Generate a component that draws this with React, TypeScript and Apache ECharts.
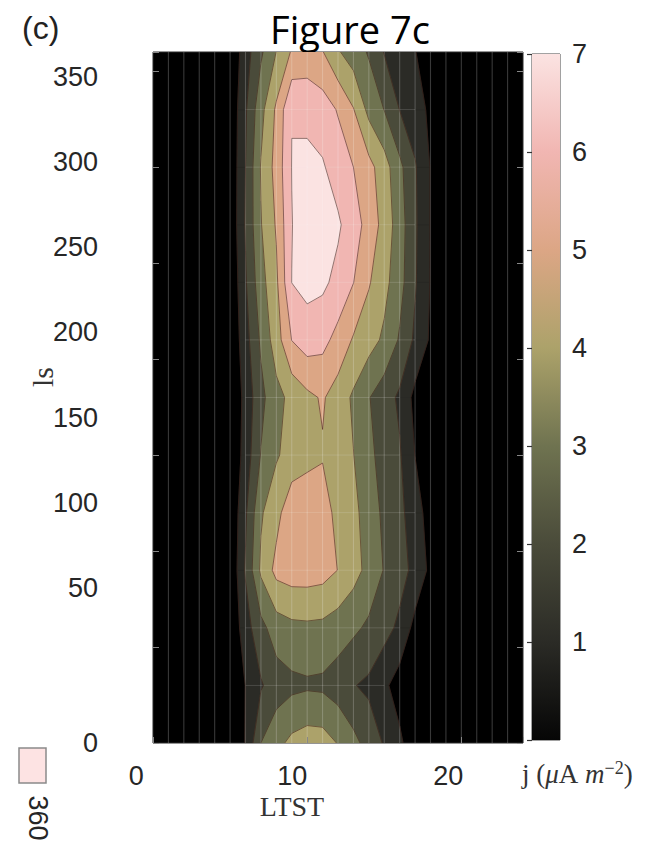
import React, { useEffect, useRef } from 'react';
import * as echarts from 'echarts';

// LTST grid (hours) and solar longitude grid (deg)
const hours = [0, 1, 2, 3, 4, 5, 6, 7, 8, 9, 10, 11, 12, 13, 14, 15, 16, 17, 18, 19, 20, 21, 22, 23, 24];
const lsValues = [0, 30, 60, 90, 120, 150, 180, 210, 240, 270, 300, 330, 360];

// current density j (µA m^-2) per Ls row, one value per hour
const ls0 = [0, 0, 0, 0, 0, 0, 1.05, 3.0, 3.7, 4.25, 4.5, 4.45, 3.95, 3.3, 2.6, 1.9, 1.2, 0.3, 0, 0, 0, 0, 0, 0, 0];
const ls30 = [0, 0, 0, 0, 0, 0, 1.02, 1.9, 2.5, 2.75, 2.85, 2.8, 2.5, 2.05, 1.8, 1.2, 0.53, 0, 0, 0, 0, 0, 0, 0, 0];
const ls60 = [0, 0, 0, 0, 0, 0.1, 1.57, 2.7, 3.5, 3.75, 3.8, 3.75, 3.5, 3.2, 2.82, 2.36, 1.78, 0.67, 0, 0, 0, 0, 0, 0, 0];
const ls90 = [0, 0, 0, 0, 0, 0.1, 2.1, 4.18, 5.3, 5.5, 5.5, 5.4, 4.98, 4.38, 3.69, 2.94, 2.39, 1.71, 0.76, 0, 0, 0, 0, 0, 0];
const ls120 = [0, 0, 0, 0, 0, 0.1, 1.85, 3.88, 4.68, 5.68, 5.58, 5.5, 4.67, 4.26, 3.55, 2.78, 2.24, 1.48, 0.52, 0, 0, 0, 0, 0, 0];
const ls150 = [0, 0, 0, 0, 0, 0, 1.43, 3.05, 3.89, 4.4, 4.75, 4.92, 4.5, 4.02, 3.23, 2.63, 2.1, 0.98, 0, 0, 0, 0, 0, 0, 0];
const ls180 = [0, 0, 0, 0, 0, 0, 1.33, 2.73, 3.68, 4.28, 4.77, 5.1, 4.55, 3.84, 3.05, 2.46, 1.82, 0.7, 0, 0, 0, 0, 0, 0, 0];
const ls210 = [0, 0, 0, 0, 0, 0.1, 1.6, 3.17, 4.53, 6.02, 6.5, 6.3, 5.67, 4.9, 4.4, 3.82, 2.89, 1.81, 0.86, 0, 0, 0, 0, 0, 0];
const ls240 = [0, 0, 0, 0, 0, 0.1, 1.9, 3.63, 4.81, 7.01, 7.3, 7.2, 6.71, 6.02, 5.09, 4.31, 3.37, 2.1, 0.95, 0, 0, 0, 0, 0, 0];
const ls270 = [0, 0, 0, 0, 0, 0.2, 2.08, 3.95, 5.1, 6.97, 7.6, 7.5, 7.15, 6.43, 5.64, 4.63, 3.47, 2.15, 0.95, 0, 0, 0, 0, 0, 0];
const ls300 = [0, 0, 0, 0, 0, 0.2, 2.0, 4.07, 5.35, 7.02, 7.4, 7.1, 6.54, 6.0, 5.33, 4.44, 3.25, 2.1, 0.95, 0, 0, 0, 0, 0, 0];
const ls330 = [0, 0, 0, 0, 0, 0.2, 1.87, 3.68, 5.17, 6.98, 6.6, 6.5, 5.92, 5.05, 3.71, 2.98, 1.98, 1.44, 0.8, 0, 0, 0, 0, 0, 0];
const ls360 = [0, 0, 0, 0, 0, 0.1, 1.55, 2.84, 4.02, 5.1, 5.5, 5.05, 4.1, 3.5, 2.9, 1.95, 1.5, 1.05, 0.2, 0, 0, 0, 0, 0, 0];
const jRows = [ls0, ls30, ls60, ls90, ls120, ls150, ls180, ls210, ls240, ls270, ls300, ls330, ls360];

// contour levels and colormap
const levels = [1, 2, 3, 4, 5, 6, 7];
const cmapLevels = [0, 1, 2, 3, 4, 5, 6, 7];
const cmapColors = ['#060606', '#2b2b26', '#4a4b3a', '#6f7350', '#aca26a', '#dca685', '#f1b6b2', '#fbe3e2'];

// tick labels
const xLabelValues = [0, 10, 20];
const yLabelValues = [50, 100, 150, 200, 250, 300, 350];
const colorbarTicks = [1, 2, 3, 4, 5, 6, 7];
const gridHours = [1, 2, 3, 4, 5, 6, 7, 8, 9, 10, 11, 12, 13, 14, 15, 16, 17, 18, 19, 20, 21, 22, 23];

type P = [number, number];

function cellInfo(i: number, j: number) {
  const c: P[] = [
    [hours[i], lsValues[j]],
    [hours[i + 1], lsValues[j]],
    [hours[i + 1], lsValues[j + 1]],
    [hours[i], lsValues[j + 1]],
  ];
  const v = [jRows[j][i], jRows[j][i + 1], jRows[j + 1][i + 1], jRows[j + 1][i]];
  return { c, v };
}

function crossPt(c: P[], v: number[], k: number, L: number): P {
  const k2 = (k + 1) % 4;
  const t = (L - v[k]) / (v[k2] - v[k]);
  return [c[k][0] + t * (c[k2][0] - c[k][0]), c[k][1] + t * (c[k2][1] - c[k][1])];
}

function bandPolys(L: number): P[][] {
  const polys: P[][] = [];
  for (let j = 0; j < lsValues.length - 1; j++) {
    for (let i = 0; i < hours.length - 1; i++) {
      const { c, v } = cellInfo(i, j);
      const a = v.map((x) => x >= L);
      const n = a.filter(Boolean).length;
      if (n === 0) continue;
      if (n === 4) { polys.push(c); continue; }
      const saddle = n === 2 && a[0] === a[2];
      const center = (v[0] + v[1] + v[2] + v[3]) / 4;
      if (saddle && center < L) {
        for (let k = 0; k < 4; k++) {
          if (a[k]) polys.push([crossPt(c, v, (k + 3) % 4, L), c[k], crossPt(c, v, k, L)]);
        }
      } else {
        const pts: P[] = [];
        for (let k = 0; k < 4; k++) {
          if (a[k]) pts.push(c[k]);
          if (a[k] !== a[(k + 1) % 4]) pts.push(crossPt(c, v, k, L));
        }
        polys.push(pts);
      }
    }
  }
  return polys;
}

function levelSegs(L: number): [P, P][] {
  const segs: [P, P][] = [];
  for (let j = 0; j < lsValues.length - 1; j++) {
    for (let i = 0; i < hours.length - 1; i++) {
      const { c, v } = cellInfo(i, j);
      const a = v.map((x) => x >= L);
      const n = a.filter(Boolean).length;
      if (n === 0 || n === 4) continue;
      const e = [0, 1, 2, 3].filter((k) => a[k] !== a[(k + 1) % 4]);
      if (e.length === 2) {
        segs.push([crossPt(c, v, e[0], L), crossPt(c, v, e[1], L)]);
      } else {
        const center = (v[0] + v[1] + v[2] + v[3]) / 4;
        for (let k = 0; k < 4; k++) {
          const isolated = center >= L ? !a[k] : a[k];
          if (isolated) segs.push([crossPt(c, v, (k + 3) % 4, L), crossPt(c, v, k, L)]);
        }
      }
    }
  }
  return segs;
}

const labelFont = 'Liberation Sans, Arial, sans-serif';
const serifFont = 'Liberation Serif, DejaVu Serif, serif';

export default function App() {
  const ref = useRef<HTMLDivElement>(null);
  useEffect(() => {
    if (!ref.current) return;
    const chart = echarts.init(ref.current, null, { renderer: 'svg' });

    const option: any = {
      animation: false,
      backgroundColor: '#ffffff',
      grid: [
        { left: 153, top: 52, width: 370, height: 691, show: true, backgroundColor: '#000000', borderColor: '#2a2a2a', borderWidth: 1, containLabel: false, outerBoundsMode: 'none' },
        { left: 136.3, top: 52, width: 374.4, height: 691, containLabel: false, outerBoundsMode: 'none' },
        { left: 153, top: 60, width: 370, height: 613, containLabel: false, outerBoundsMode: 'none' },
        { left: 532, top: 54, width: 28, height: 686, show: true, backgroundColor: 'transparent', borderColor: '#444', borderWidth: 1, containLabel: false, outerBoundsMode: 'none' },
      ],
      xAxis: [
        {
          gridIndex: 0, type: 'value', min: 0, max: 24, interval: 10, z: 5,
          axisLine: { show: false },
          axisTick: { show: true, inside: true, length: 6, lineStyle: { color: '#888' } },
          axisLabel: { show: false }, splitLine: { show: false },
        },
        {
          gridIndex: 1, type: 'value', min: 0, max: 24, interval: 10,
          axisLine: { show: false }, axisTick: { show: false }, splitLine: { show: false },
          axisLabel: {
            show: true, margin: 19, fontSize: 27, fontFamily: labelFont, color: '#262626',
            formatter: (v: number) => (xLabelValues.indexOf(v) >= 0 ? String(v) : ''),
          },
        },
        { gridIndex: 2, type: 'value', min: 0, max: 24, show: false },
        { gridIndex: 3, type: 'value', min: 0, max: 1, show: false },
      ],
      yAxis: [
        {
          gridIndex: 0, type: 'value', min: 0, max: 360, interval: 50, position: 'left', z: 5,
          axisLine: { show: false },
          axisTick: { show: true, inside: true, length: 6, lineStyle: { color: '#888' } },
          splitLine: { show: false },
          axisLabel: {
            show: true, margin: 55, fontSize: 27, fontFamily: labelFont, color: '#262626',
            formatter: (v: number) => (v === 0 ? '0' : ''),
          },
        },
        {
          gridIndex: 0, type: 'value', min: 0, max: 360, interval: 50, position: 'right', z: 5,
          axisLine: { show: false },
          axisTick: { show: true, inside: true, length: 6, lineStyle: { color: '#888' } },
          splitLine: { show: false }, axisLabel: { show: false },
        },
        { gridIndex: 1, type: 'value', min: 0, max: 360, show: false },
        {
          gridIndex: 2, type: 'value', min: 0, max: 360, interval: 50, position: 'left',
          axisLine: { show: false }, axisTick: { show: false }, splitLine: { show: false },
          axisLabel: {
            show: true, margin: 55, fontSize: 27, fontFamily: labelFont, color: '#262626',
            formatter: (v: number) => (yLabelValues.indexOf(v) >= 0 ? String(v) : ''),
          },
        },
        {
          gridIndex: 3, type: 'value', min: 0, max: 7, interval: 1, position: 'right',
          axisLine: { show: false },
          axisTick: { show: true, inside: true, length: 5, lineStyle: { color: '#333', width: 1.2 } },
          splitLine: { show: false },
          axisLabel: {
            show: true, margin: 12, fontSize: 27, fontFamily: labelFont, color: '#262626',
            formatter: (v: number) => (colorbarTicks.indexOf(v) >= 0 ? String(v) : ''),
          },
        },
      ],
      series: [
        {
          type: 'custom', name: 'bands', xAxisIndex: 0, yAxisIndex: 0, z: 2, clip: true, silent: true,
          data: levels.map((L, k) => [12, 180, k]),
          encode: { x: 0, y: 1 },
          renderItem: (params: any, api: any) => {
            const L = levels[params.dataIndex];
            const color = cmapColors[cmapLevels.indexOf(L)];
            const children = bandPolys(L).map((pts) => ({
              type: 'polygon',
              shape: { points: pts.map((p) => api.coord(p)) },
              style: { fill: color, stroke: color, lineWidth: 0.7 },
            }));
            return { type: 'group', children };
          },
        },
        {
          type: 'custom', name: 'vgrid', xAxisIndex: 0, yAxisIndex: 0, z: 3, clip: true, silent: true,
          data: gridHours.map((h) => [h, 0]),
          encode: { x: 0, y: 1 },
          renderItem: (params: any, api: any) => {
            const h = gridHours[params.dataIndex];
            const p0 = api.coord([h, lsValues[0]]);
            const p1 = api.coord([h, lsValues[lsValues.length - 1]]);
            return {
              type: 'line',
              shape: { x1: p0[0], y1: p0[1], x2: p1[0], y2: p1[1] },
              style: { stroke: 'rgba(255,255,255,0.22)', lineWidth: 1.1 },
            };
          },
        },
        {
          type: 'custom', name: 'hgrid', xAxisIndex: 0, yAxisIndex: 0, z: 3, clip: true, silent: true,
          data: lsValues.slice(1, lsValues.length - 1).map((ls) => [12, ls]),
          encode: { x: 0, y: 1 },
          renderItem: (params: any, api: any) => {
            const j = params.dataIndex + 1;
            const row = jRows[j];
            let first = -1;
            let last = -1;
            row.forEach((val, i) => { if (val >= 1) { if (first < 0) first = i; last = i; } });
            if (first < 0) return null;
            const p0 = api.coord([hours[first], lsValues[j]]);
            const p1 = api.coord([hours[last], lsValues[j]]);
            return {
              type: 'line',
              shape: { x1: p0[0], y1: p0[1], x2: p1[0], y2: p1[1] },
              style: { stroke: 'rgba(255,255,255,0.16)', lineWidth: 1 },
            };
          },
        },
        {
          type: 'custom', name: 'contours', xAxisIndex: 0, yAxisIndex: 0, z: 4, clip: true, silent: true,
          data: levels.map((L, k) => [12, 180, k]),
          encode: { x: 0, y: 1 },
          renderItem: (params: any, api: any) => {
            const L = levels[params.dataIndex];
            const children = levelSegs(L).map((s) => {
              const a = api.coord(s[0]);
              const b = api.coord(s[1]);
              return {
                type: 'line',
                shape: { x1: a[0], y1: a[1], x2: b[0], y2: b[1] },
                style: { stroke: 'rgba(60,30,22,0.55)', lineWidth: 1 },
              };
            });
            return { type: 'group', children };
          },
        },
        {
          type: 'custom', name: 'colorbar', xAxisIndex: 3, yAxisIndex: 4, z: 2, silent: true,
          data: [[0, 0]],
          encode: { x: 0, y: 1 },
          renderItem: (params: any, api: any) => {
            const top = cmapLevels[cmapLevels.length - 1];
            const p0 = api.coord([0, top]);
            const p1 = api.coord([1, cmapLevels[0]]);
            const stops = cmapLevels
              .map((lv, i) => ({ offset: 1 - lv / top, color: cmapColors[i] }))
              .reverse();
            return {
              type: 'rect',
              shape: { x: p0[0], y: p0[1], width: p1[0] - p0[0], height: p1[1] - p0[1] },
              style: { fill: { type: 'linear', x: 0, y: 0, x2: 0, y2: 1, colorStops: stops } },
            };
          },
        },
      ],
      graphic: [
        {
          type: 'text', x: 22, y: 28,
          style: { text: '(c)', fontSize: 32, fontFamily: labelFont, fill: '#222', align: 'left', textAlign: 'left', verticalAlign: 'middle', textVerticalAlign: 'middle' },
        },
        {
          type: 'text', x: 350, y: 29,
          style: { text: 'Figure 7c', fontSize: 38, fontFamily: 'Open Sans, sans-serif', fill: '#000', align: 'center', textAlign: 'center', verticalAlign: 'middle', textVerticalAlign: 'middle' },
        },
        {
          type: 'text', x: 42, y: 377, rotation: Math.PI / 2,
          style: { text: 'ls', fontSize: 30, fontFamily: serifFont, fill: '#333', align: 'center', textAlign: 'center', verticalAlign: 'middle', textVerticalAlign: 'middle' },
        },
        {
          type: 'text', x: 292, y: 806,
          style: { text: 'LTST', fontSize: 28, fontFamily: serifFont, fill: '#333', align: 'center', textAlign: 'center', verticalAlign: 'middle', textVerticalAlign: 'middle' },
        },
        {
          type: 'text', x: 522, y: 774,
          style: {
            text: '{a|j (}{i|μ}{a|A }{i|m}{s|−2}{a|)}',
            fill: '#333', align: 'left', textAlign: 'left', verticalAlign: 'middle', textVerticalAlign: 'middle',
            rich: {
              a: { fontSize: 27, fontFamily: serifFont, fill: '#333', color: '#333', lineHeight: 30 },
              i: { fontSize: 27, fontFamily: serifFont, fontStyle: 'italic', fill: '#333', color: '#333', lineHeight: 30 },
              s: { fontSize: 18, fontFamily: serifFont, fill: '#333', color: '#333', lineHeight: 18, verticalAlign: 'top' },
            },
          },
        },
        {
          type: 'rect', shape: { x: 19, y: 748, width: 27, height: 35 },
          style: { fill: '#fde3e3', stroke: '#8a8a8a', lineWidth: 1.5 },
        },
        {
          type: 'text', x: 38, y: 818, rotation: -Math.PI / 2,
          style: { text: '360', fontSize: 27, fontFamily: labelFont, fill: '#262626', align: 'center', textAlign: 'center', verticalAlign: 'middle', textVerticalAlign: 'middle' },
        },
      ],
    };

    chart.setOption(option);
    return () => chart.dispose();
  }, []);
  return <div ref={ref} style={{ position: 'absolute', left: 0, top: 0, width: 662, height: 843 }} />;
}
